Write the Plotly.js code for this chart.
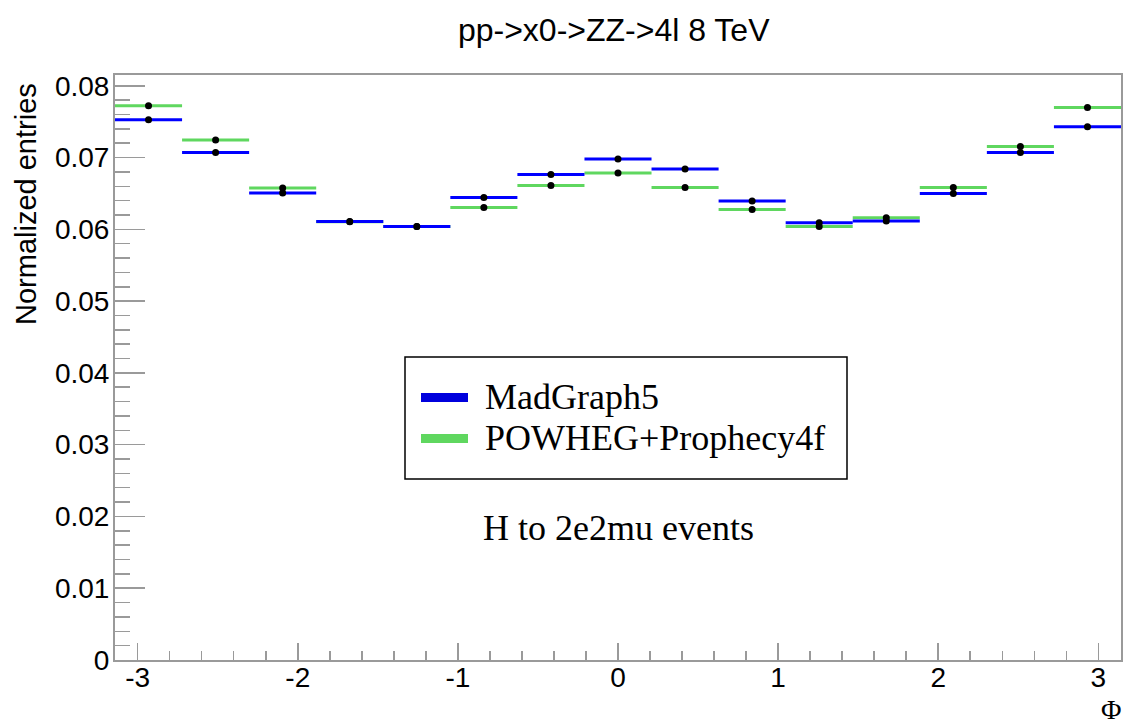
<!DOCTYPE html>
<html>
<head>
<meta charset="utf-8">
<script src="https://cdn.plot.ly/plotly-3.0.1.min.js"></script>
<style>
  html, body { margin: 0; padding: 0; background: #ffffff; }
  #chart { width: 1128px; height: 727px; }
</style>
</head>
<body>
<div id="chart"></div>
<script>
// ---- data ----
const binCenters = [-2.93215, -2.51327, -2.09440, -1.67552, -1.25664, -0.83776, -0.41888, 0.0,
                    0.41888, 0.83776, 1.25664, 1.67552, 2.09440, 2.51327, 2.93215];
const binHalfWidth = 0.20944;
const madgraph5 = [0.07526, 0.07071, 0.06505, 0.06110, 0.06040, 0.06445, 0.06765, 0.06979,
                   0.06840, 0.06394, 0.06092, 0.06115, 0.06500, 0.07071, 0.07430];
const powheg    = [0.07721, 0.07244, 0.06575, 0.06105, 0.06040, 0.06305, 0.06612, 0.06784,
                   0.06584, 0.06277, 0.06040, 0.06162, 0.06584, 0.07155, 0.07698];
const seriesNames = ["MadGraph5", "POWHEG+Prophecy4f"];
const xTickVals = [-3, -2, -1, 0, 1, 2, 3];
const xTickText = ["-3", "-2", "-1", "0", "1", "2", "3"];

// ---- geometry helpers (pixel -> paper) ----
const L = 115, R = 1121, T = 75, B = 660;
const px = p => (p - L) / (R - L);
const py = p => (B - p) / (B - T);

const BLUE = "#0000ff", GREEN = "#5fd75f";
const frameGray = "#9a9a9a";

function histTrace(vals, color, name) {
  return {
    type: "scatter", mode: "markers", name: name,
    x: binCenters, y: vals,
    marker: { color: "#000000", size: 7 },
    error_x: { type: "constant", value: binHalfWidth, width: 0, thickness: 3, color: color },
    showlegend: false, hoverinfo: "x+y+name"
  };
}

const traces = [
  histTrace(powheg, GREEN, seriesNames[1]),
  histTrace(madgraph5, BLUE, seriesNames[0])
];

const layout = {
  width: 1128, height: 727,
  margin: { l: L, r: 1128 - R, t: T, b: 727 - B, pad: 0 },
  paper_bgcolor: "#ffffff", plot_bgcolor: "#ffffff",
  showlegend: false,
  title: {
    text: "pp->x0->ZZ->4l 8 TeV",
    font: { family: "Liberation Sans, Arial, sans-serif", size: 32, color: "#000000" },
    x: 613.7 / 1128, xanchor: "center", xref: "container",
    y: 1 - 30 / 727, yanchor: "middle", yref: "container"
  },
  xaxis: {
    range: [-Math.PI, Math.PI],
    showgrid: false, zeroline: false,
    showline: true, mirror: true, linecolor: frameGray, linewidth: 2,
    ticks: "inside", ticklen: 17, tickwidth: 1.5, tickcolor: frameGray,
    tickmode: "array", tickvals: xTickVals, ticktext: xTickText,
    minor: { ticks: "inside", tickmode: "linear", tick0: 0, dtick: 0.2, ticklen: 9, tickwidth: 1.5, tickcolor: frameGray },
    tickfont: { family: "Liberation Sans, Arial, sans-serif", size: 28, color: "#000000" },
    ticklabelstandoff: -9
  },
  yaxis: {
    range: [0, 0.0815],
    showgrid: false, zeroline: false,
    showline: true, mirror: true, linecolor: frameGray, linewidth: 2,
    ticks: "inside", ticklen: 30, tickwidth: 1.5, tickcolor: frameGray,
    tickmode: "linear", tick0: 0, dtick: 0.01,
    minor: { ticks: "inside", tickmode: "linear", tick0: 0, dtick: 0.002, ticklen: 15, tickwidth: 1.5, tickcolor: frameGray },
    tickfont: { family: "Liberation Sans, Arial, sans-serif", size: 28, color: "#000000" },
    ticklabelstandoff: -2
  },
  shapes: [
    { type: "rect", xref: "paper", yref: "paper", x0: px(405), x1: px(847), y0: py(479), y1: py(357),
      line: { color: "#000000", width: 1.5 }, fillcolor: "#ffffff", layer: "above" },
    { type: "line", xref: "paper", yref: "paper", x0: px(421), x1: px(468), y0: py(397.5), y1: py(397.5),
      line: { color: "#0000dd", width: 9 }, layer: "above" },
    { type: "line", xref: "paper", yref: "paper", x0: px(421), x1: px(468), y0: py(438.5), y1: py(438.5),
      line: { color: GREEN, width: 9 }, layer: "above" }
  ],
  annotations: [
    { text: seriesNames[0], xref: "paper", yref: "paper", x: px(483), y: py(397), xanchor: "left", yanchor: "middle",
      showarrow: false, font: { family: "Liberation Serif, Times New Roman, serif", size: 36, color: "#000000" } },
    { text: seriesNames[1], xref: "paper", yref: "paper", x: px(483), y: py(438), xanchor: "left", yanchor: "middle",
      showarrow: false, font: { family: "Liberation Serif, Times New Roman, serif", size: 36, color: "#000000" } },
    { text: "H to 2e2mu events", xref: "paper", yref: "paper", x: px(618), y: py(528), xanchor: "center", yanchor: "middle",
      showarrow: false, font: { family: "Liberation Serif, Times New Roman, serif", size: 36, color: "#000000" } },
    { text: "Normalized entries", xref: "paper", yref: "paper", x: px(26), y: py(204), xanchor: "center", yanchor: "middle",
      textangle: -90, showarrow: false, font: { family: "Liberation Sans, Arial, sans-serif", size: 29, color: "#000000" } },
    { text: "Φ", xref: "paper", yref: "paper", x: px(1123), y: py(709), xanchor: "right", yanchor: "middle",
      showarrow: false, font: { family: "Liberation Serif, Times New Roman, serif", size: 28, color: "#000000" } }
  ]
};

Plotly.newPlot("chart", traces, layout, { displayModeBar: false, staticPlot: true });
</script>
</body>
</html>
